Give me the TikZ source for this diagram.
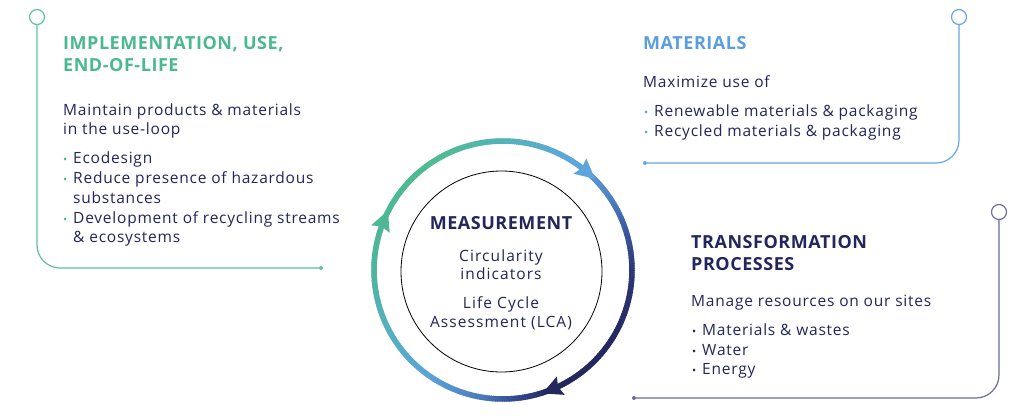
\documentclass[tikz,border=0pt]{standalone}
\usepackage{fontspec}
\setmainfont{Open Sans}
\definecolor{navy}{HTML}{23265C}
\definecolor{hgreen}{HTML}{4BB98F}
\definecolor{hblue}{HTML}{5B9EDE}
\definecolor{lgreen}{HTML}{5EC3A0}
\definecolor{lblue}{HTML}{6AA5E3}
\definecolor{lnavy}{HTML}{6B6D9E}
\definecolor{r180}{HTML}{4CB59C}
\definecolor{r158}{HTML}{4CB894}
\definecolor{r120}{HTML}{4EBB92}
\definecolor{r95}{HTML}{53B4B0}
\definecolor{r75}{HTML}{58ADC8}
\definecolor{r55}{HTML}{5EA5DC}
\definecolor{r35}{HTML}{4F84C6}
\definecolor{r18}{HTML}{3A5A9E}
\definecolor{r0}{HTML}{2C3878}
\definecolor{rm30}{HTML}{25295F}
\definecolor{rm68}{HTML}{23275C}
\definecolor{rm85}{HTML}{344A92}
\definecolor{rm100}{HTML}{4A7CBE}
\definecolor{rm125}{HTML}{5BA4D8}
\definecolor{rm155}{HTML}{54B1BE}
\tikzset{
  body/.style={font=\fontsize{15.5}{19}\selectfont\addfontfeature{LetterSpace=5}, text=navy, anchor=base west, inner sep=0pt},
  ctext/.style={font=\fontsize{15.5}{19}\selectfont\addfontfeature{LetterSpace=7}, text=navy, anchor=base, inner sep=0pt},
  head/.style={font=\fontsize{18}{22}\selectfont\bfseries\addfontfeature{LetterSpace=3}, anchor=base west, inner sep=0pt},
  pin/.style={circle, draw, fill=white, minimum size=15pt, inner sep=0pt, line width=1.2pt},
  enddot/.style={circle, fill, minimum size=4pt, inner sep=0pt},
  lead/.style={line width=1.2pt, rounded corners=23pt},
}
\newcommand{\bul}[1]{\makebox[10pt][l]{\textcolor{#1}{\fontsize{11}{11}\selectfont\textbullet}}}
\begin{document}
\begin{tikzpicture}[x=1pt,y=1pt]
\useasboundingbox (0,0) rectangle (1033,-418);
\fill[white] (0,0) rectangle (1033,-418);

% leader lines
\node[pin, draw=lgreen] (pinL) at (37,-17) {};
\node[enddot, fill=lgreen] (dotL) at (321,-268) {};
\draw[lead, lgreen] (pinL.south) -- (pinL.south |- dotL) -- (dotL);

\node[pin, draw=lblue] (pinM) at (959,-17) {};
\node[enddot, fill=lblue] (dotM) at (645,-163) {};
\draw[lead, lblue] (pinM.south) -- (pinM.south |- dotM) -- (dotM);

\node[pin, draw=lnavy] (pinT) at (999,-212) {};
\node[enddot, fill=lnavy] (dotT) at (634,-398) {};
\draw[lead, lnavy] (pinT.south) -- (pinT.south |- dotT) -- (dotT);

% ring
\coordinate (C) at (503,-270);
\foreach \a/\b/\ca/\cb in {180/158/r180/r158, 158/120/r158/r120, 120/95/r120/r95, 95/75/r95/r75, 75/55/r75/r55, 55/35/r55/r35, 35/18/r35/r18, 18/0/r18/r0, 0/-30/r0/rm30, -30/-68/rm30/rm68, -68/-85/rm68/rm85, -85/-100/rm85/rm100, -100/-125/rm100/rm125, -125/-155/rm125/rm155, -155/-180/rm155/r180}{
  \pgfmathtruncatemacro\n{\a-\b}
  \foreach \i in {1,...,\n}{
    \pgfmathsetmacro\s{\a-\i+1}
    \pgfmathsetmacro\e{\a-\i-0.5}
    \pgfmathsetmacro\p{100*(\i-0.5)/\n}
    \draw[line width=5.5pt, color=\cb!\p!\ca] (C) ++(\s:129) arc (\s:\e:129);
  }
}
\foreach \t/\c in {50/r55, -67/rm68, 158/r158}{
  \begin{scope}[shift={(503,-270)}, rotate=\t]
    \fill[\c] (129,-12) -- (139,8) -- (129,5) -- (119,8) -- cycle;
  \end{scope}
}

% inner circle
\node[circle, draw=black, line width=0.8pt, minimum size=201pt, inner sep=0pt] (meas) at (501.5,-271.5) {};
\node[head, anchor=base, text=navy] (mt) at (501,-229) {MEASUREMENT};
\node[ctext] (m1) at (501,-261) {Circularity};
\node[ctext] (m2) at (501,-279) {indicators};
\node[ctext] (m3) at (501,-308) {Life Cycle};
\node[ctext] (m4) at (501,-327) {Assessment (LCA)};

% left panel
\node[head, text=hgreen] (lh1) at (63,-49) {IMPLEMENTATION, USE,};
\node[head, text=hgreen] (lh2) at (63,-71) {END-OF-LIFE};
\node[body] (li1) at (63,-115) {Maintain products \& materials};
\node[body] (li2) at (63,-134) {in the use-loop};
\node[body] (lb1) at (63,-163) {\bul{hgreen}Ecodesign};
\node[body] (lb2) at (63,-183) {\bul{hgreen}Reduce presence of hazardous};
\node[body] (lb3) at (73,-203) {substances};
\node[body] (lb4) at (63,-223) {\bul{hgreen}Development of recycling streams};
\node[body] (lb5) at (73,-242) {\& ecosystems};

% materials panel
\node[head, text=hblue] (mh) at (643,-49) {MATERIALS};
\node[body] (mi) at (643,-87) {Maximize use of};
\node[body] (mb1) at (644,-116) {\bul{hblue}Renewable materials \& packaging};
\node[body] (mb2) at (644,-136) {\bul{hblue}Recycled materials \& packaging};

% transformation panel
\node[head, text=navy] (th1) at (691,-248) {TRANSFORMATION};
\node[head, text=navy] (th2) at (691,-270) {PROCESSES};
\node[body] (ti) at (691,-306) {Manage resources on our sites};
\node[body] (tb1) at (692,-335) {\bul{navy}Materials \& wastes};
\node[body] (tb2) at (692,-355) {\bul{navy}Water};
\node[body] (tb3) at (692,-374) {\bul{navy}Energy};
\end{tikzpicture}
\end{document}
